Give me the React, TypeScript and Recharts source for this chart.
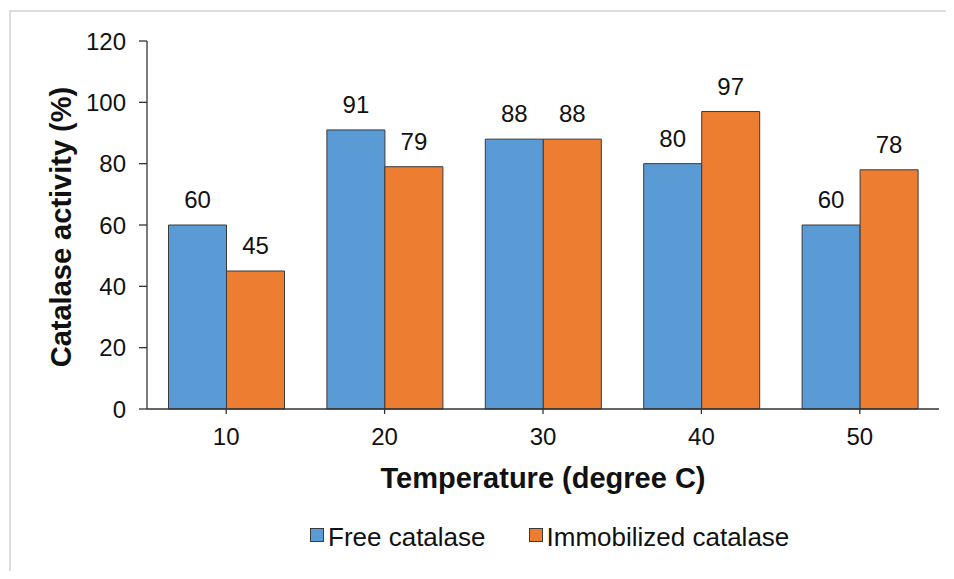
import React from 'react';
import { BarChart, Bar, XAxis, YAxis, Legend, LabelList, Label } from 'recharts';

const temperatures = ['10', '20', '30', '40', '50'];
const freeCatalase = [60, 91, 88, 80, 60];
const immobilizedCatalase = [45, 79, 88, 97, 78];
const yTicks = [0, 20, 40, 60, 80, 100, 120];
const seriesNames = ['Free catalase', 'Immobilized catalase'];
const seriesColors = ['#5B9BD5', '#ED7D31'];
const xTitle = 'Temperature (degree C)';
const yTitle = 'Catalase activity (%)';

const data = temperatures.map((t, i) => ({
  temp: t,
  free: freeCatalase[i],
  immob: immobilizedCatalase[i],
}));

const FONT = '"Liberation Sans", Arial, sans-serif';
const TEXT = '#111';
const AXIS = '#333';
const BAR_STROKE = '#3a3a3a';

const renderLegend = () => (
  <div
    style={{
      height: 60,
      display: 'flex',
      alignItems: 'flex-start',
      paddingLeft: 310,
      fontFamily: FONT,
      fontSize: 26,
      lineHeight: '36px',
      color: TEXT,
      boxSizing: 'border-box',
    }}
  >
    {seriesNames.map((name, i) => (
      <div
        key={name}
        style={{
          display: 'flex',
          alignItems: 'center',
          height: 36,
          marginRight: i === 0 ? 43 : 0,
        }}
      >
        <span
          style={{
            display: 'inline-block',
            width: 12,
            height: 12,
            border: `1px solid ${BAR_STROKE}`,
            background: seriesColors[i],
            marginRight: 4,
            position: 'relative',
            top: -2,
          }}
        />
        <span style={{ whiteSpace: 'nowrap' }}>{name}</span>
      </div>
    ))}
  </div>
);

const renderYTitle = (props: any) => {
  const vb = props.viewBox || { x: 0, y: 41, width: 147, height: 368 };
  const cx = 71;
  const cy = vb.y + vb.height / 2 + 2;
  return (
    <text
      x={cx}
      y={cy}
      transform={`rotate(-90 ${cx} ${cy})`}
      textAnchor="middle"
      fontFamily={FONT}
      fontSize={29}
      fontWeight="bold"
      fill={TEXT}
    >
      {yTitle}
    </text>
  );
};

export default function App() {
  return (
    <div
      style={{
        position: 'relative',
        width: 954,
        height: 579,
        margin: -8,
        background: '#fff',
        overflow: 'hidden',
      }}
    >
      <BarChart
        width={954}
        height={579}
        data={data}
        margin={{ top: 41, right: 15, bottom: 0, left: 0 }}
        barCategoryGap={21.5}
        barGap={0}
      >
        <XAxis
          dataKey="temp"
          height={110}
          tickSize={5}
          tickMargin={14}
          axisLine={{ stroke: AXIS, strokeWidth: 1.3 }}
          tickLine={{ stroke: AXIS, strokeWidth: 1.3 }}
          tick={{ fill: TEXT, fontSize: 24, fontFamily: FONT }}
        >
          <Label
            value={xTitle}
            position="insideBottom"
            offset={31}
            fill={TEXT}
            fontSize={29}
            fontWeight="bold"
            fontFamily={FONT}
          />
        </XAxis>
        <YAxis
          width={147}
          domain={[0, 120]}
          ticks={yTicks}
          interval={0}
          tickSize={8}
          tickMargin={13}
          axisLine={{ stroke: AXIS, strokeWidth: 1.3 }}
          tickLine={{ stroke: AXIS, strokeWidth: 1.3 }}
          tick={{ fill: TEXT, fontSize: 24, fontFamily: FONT }}
        >
          <Label content={renderYTitle} />
        </YAxis>
        <Legend verticalAlign="bottom" content={renderLegend} />
        <Bar
          dataKey="free"
          name={seriesNames[0]}
          fill={seriesColors[0]}
          stroke={BAR_STROKE}
          strokeWidth={1}
          isAnimationActive={false}
        >
          <LabelList
            dataKey="free"
            position="top"
            offset={17}
            fill={TEXT}
            fontSize={24}
            fontFamily={FONT}
          />
        </Bar>
        <Bar
          dataKey="immob"
          name={seriesNames[1]}
          fill={seriesColors[1]}
          stroke={BAR_STROKE}
          strokeWidth={1}
          isAnimationActive={false}
        >
          <LabelList
            dataKey="immob"
            position="top"
            offset={17}
            fill={TEXT}
            fontSize={24}
            fontFamily={FONT}
          />
        </Bar>
      </BarChart>
      <div style={{ position: 'absolute', left: 10, top: 10, width: 944, height: 2, background: '#dcdcdc' }} />
      <div style={{ position: 'absolute', left: 9, top: 10, width: 2, height: 566, background: '#dcdcdc' }} />
      <div style={{ position: 'absolute', left: 0, top: 576, width: 954, height: 3, background: '#000' }} />
    </div>
  );
}
